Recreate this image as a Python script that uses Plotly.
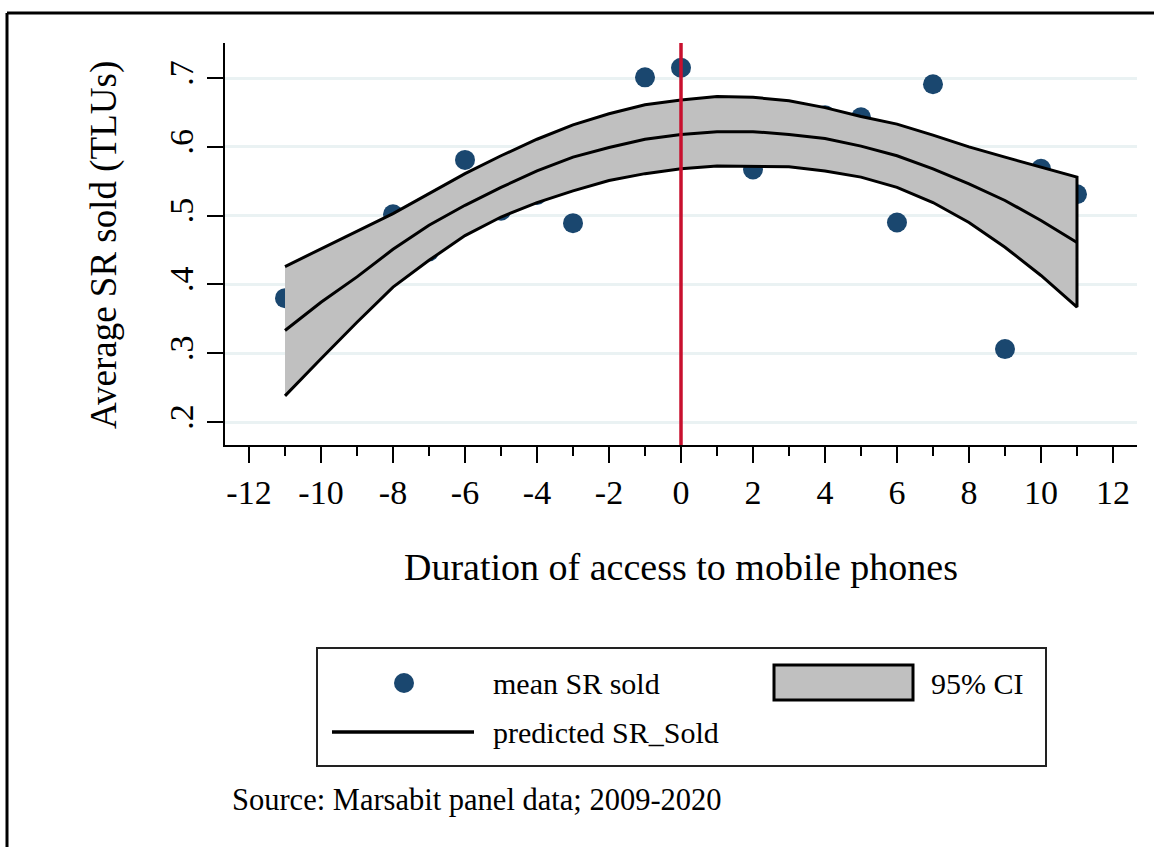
import plotly.graph_objects as go

# Mean small-ruminant sales by duration of mobile phone access
duration = [-11, -8, -7, -6, -5, -4, -3, -1, 0, 2, 4, 5, 6, 7, 9, 10, 11]
mean_sr_sold = [0.380, 0.502, 0.448, 0.581, 0.507, 0.530, 0.489, 0.701, 0.715,
                0.567, 0.646, 0.643, 0.490, 0.691, 0.306, 0.568, 0.531]

# Quadratic prediction and its 95% confidence band
fit_x = list(range(-11, 12))
predicted = [0.333, 0.374, 0.411, 0.451, 0.486, 0.515, 0.541, 0.565, 0.585, 0.599,
             0.611, 0.618, 0.622, 0.622, 0.618, 0.612, 0.601, 0.587, 0.568, 0.546,
             0.522, 0.493, 0.461]
ci_upper = [0.426, 0.452, 0.477, 0.503, 0.532, 0.561, 0.587, 0.611, 0.632, 0.648,
            0.661, 0.668, 0.673, 0.672, 0.667, 0.657, 0.644, 0.633, 0.617, 0.600,
            0.585, 0.571, 0.556]
ci_lower = [0.238, 0.292, 0.345, 0.396, 0.435, 0.471, 0.498, 0.519, 0.536, 0.551,
            0.561, 0.568, 0.572, 0.572, 0.571, 0.565, 0.556, 0.541, 0.519, 0.490,
            0.454, 0.413, 0.367]

y_ticks = [0.2, 0.3, 0.4, 0.5, 0.6, 0.7]
y_tick_labels = [".2", ".3", ".4", ".5", ".6", ".7"]
x_ticks = list(range(-12, 13, 2))

FONT = "Liberation Serif"
NAVY = "#1A476F"
BAND = "#C0C0C0"
RED = "#C8102E"

W, H = 1154, 847
L, R, T, B = 225, 1137, 43, 445   # plot area in pixels


def fx(px):
    return (px - L) / (R - L)


def fy(py):
    return (B - py) / (B - T)


fig = go.Figure()

fig.add_trace(go.Scatter(
    x=duration, y=mean_sr_sold, mode="markers",
    marker=dict(color=NAVY, size=20, line=dict(width=0)),
    name="mean SR sold", showlegend=False, cliponaxis=False))

fig.add_trace(go.Scatter(
    x=fit_x + fit_x[::-1], y=ci_upper + ci_lower[::-1],
    fill="toself", fillcolor=BAND, mode="lines",
    line=dict(color="black", width=3), name="95% CI", showlegend=False))

fig.add_trace(go.Scatter(
    x=fit_x, y=predicted, mode="lines",
    line=dict(color="black", width=3), name="predicted SR_Sold", showlegend=False))

shapes = [
    # reference line at the start of access
    dict(type="line", xref="x", yref="paper", x0=0, x1=0, y0=0, y1=1,
         line=dict(color=RED, width=3.5), layer="above"),
    # outer frame (top and left edges)
    dict(type="line", xref="paper", yref="paper", x0=fx(7), x1=fx(1160), y0=fy(13), y1=fy(13),
         line=dict(color="black", width=3)),
    dict(type="line", xref="paper", yref="paper", x0=fx(7), x1=fx(7), y0=fy(13), y1=fy(860),
         line=dict(color="black", width=3)),
    # legend box
    dict(type="rect", xref="paper", yref="paper", x0=fx(317), x1=fx(1046), y0=fy(648), y1=fy(766),
         line=dict(color="#222222", width=2), fillcolor="white"),
    dict(type="circle", xref="paper", yref="paper", x0=fx(394), x1=fx(414), y0=fy(673), y1=fy(693),
         line=dict(width=0), fillcolor=NAVY),
    dict(type="rect", xref="paper", yref="paper", x0=fx(774), x1=fx(913), y0=fy(665), y1=fy(700),
         line=dict(color="black", width=3), fillcolor=BAND),
    dict(type="line", xref="paper", yref="paper", x0=fx(332), x1=fx(474), y0=fy(732), y1=fy(732),
         line=dict(color="black", width=3.5)),
]

annotations = [
    dict(text="Duration of access to mobile phones", x=fx(681), y=fy(567),
         xanchor="center", yanchor="middle", font=dict(size=38)),
    dict(text="Average SR sold (TLUs)", x=fx(104), y=fy(245), textangle=-90,
         xanchor="center", yanchor="middle", font=dict(size=37)),
    dict(text="mean SR sold", x=fx(491), y=fy(683), xanchor="left", yanchor="middle",
         font=dict(size=30)),
    dict(text="95% CI", x=fx(929), y=fy(683), xanchor="left", yanchor="middle",
         font=dict(size=30)),
    dict(text="predicted SR_Sold", x=fx(491), y=fy(733), xanchor="left", yanchor="middle",
         font=dict(size=30)),
    dict(text="Source: Marsabit panel data; 2009-2020", x=fx(230), y=fy(800),
         xanchor="left", yanchor="middle", font=dict(size=30.5)),
]
for a in annotations:
    a.update(xref="paper", yref="paper", showarrow=False)
    a["font"].update(family=FONT, color="black")

fig.update_layout(
    width=W, height=H,
    margin=dict(l=L, r=W - R, t=T, b=H - B),
    paper_bgcolor="white", plot_bgcolor="white",
    font=dict(family=FONT, color="black"),
    showlegend=False,
    shapes=shapes, annotations=annotations,
    xaxis=dict(
        range=[-12.667, 12.667], tickvals=x_ticks,
        ticktext=[str(v) for v in x_ticks],
        ticks="outside", ticklen=16, tickwidth=2, tickcolor="black",
        tickfont=dict(size=34, family=FONT, color="black"),
        showline=True, linecolor="black", linewidth=2,
        showgrid=False, zeroline=False,
        minor=dict(tickvals=list(range(-11, 12, 2)), ticks="outside", ticklen=9,
                   tickwidth=2, tickcolor="black", showgrid=False),
    ),
    yaxis=dict(
        range=[0.1666, 0.7509], tickvals=y_ticks, ticktext=y_tick_labels,
        tickangle=-90,
        ticks="outside", ticklen=16, tickwidth=2, tickcolor="black",
        tickfont=dict(size=34, family=FONT, color="black"),
        showline=True, linecolor="black", linewidth=2,
        showgrid=True, gridcolor="#EAF2F3", gridwidth=3, zeroline=False,
    ),
)

fig.write_html("out.html")
